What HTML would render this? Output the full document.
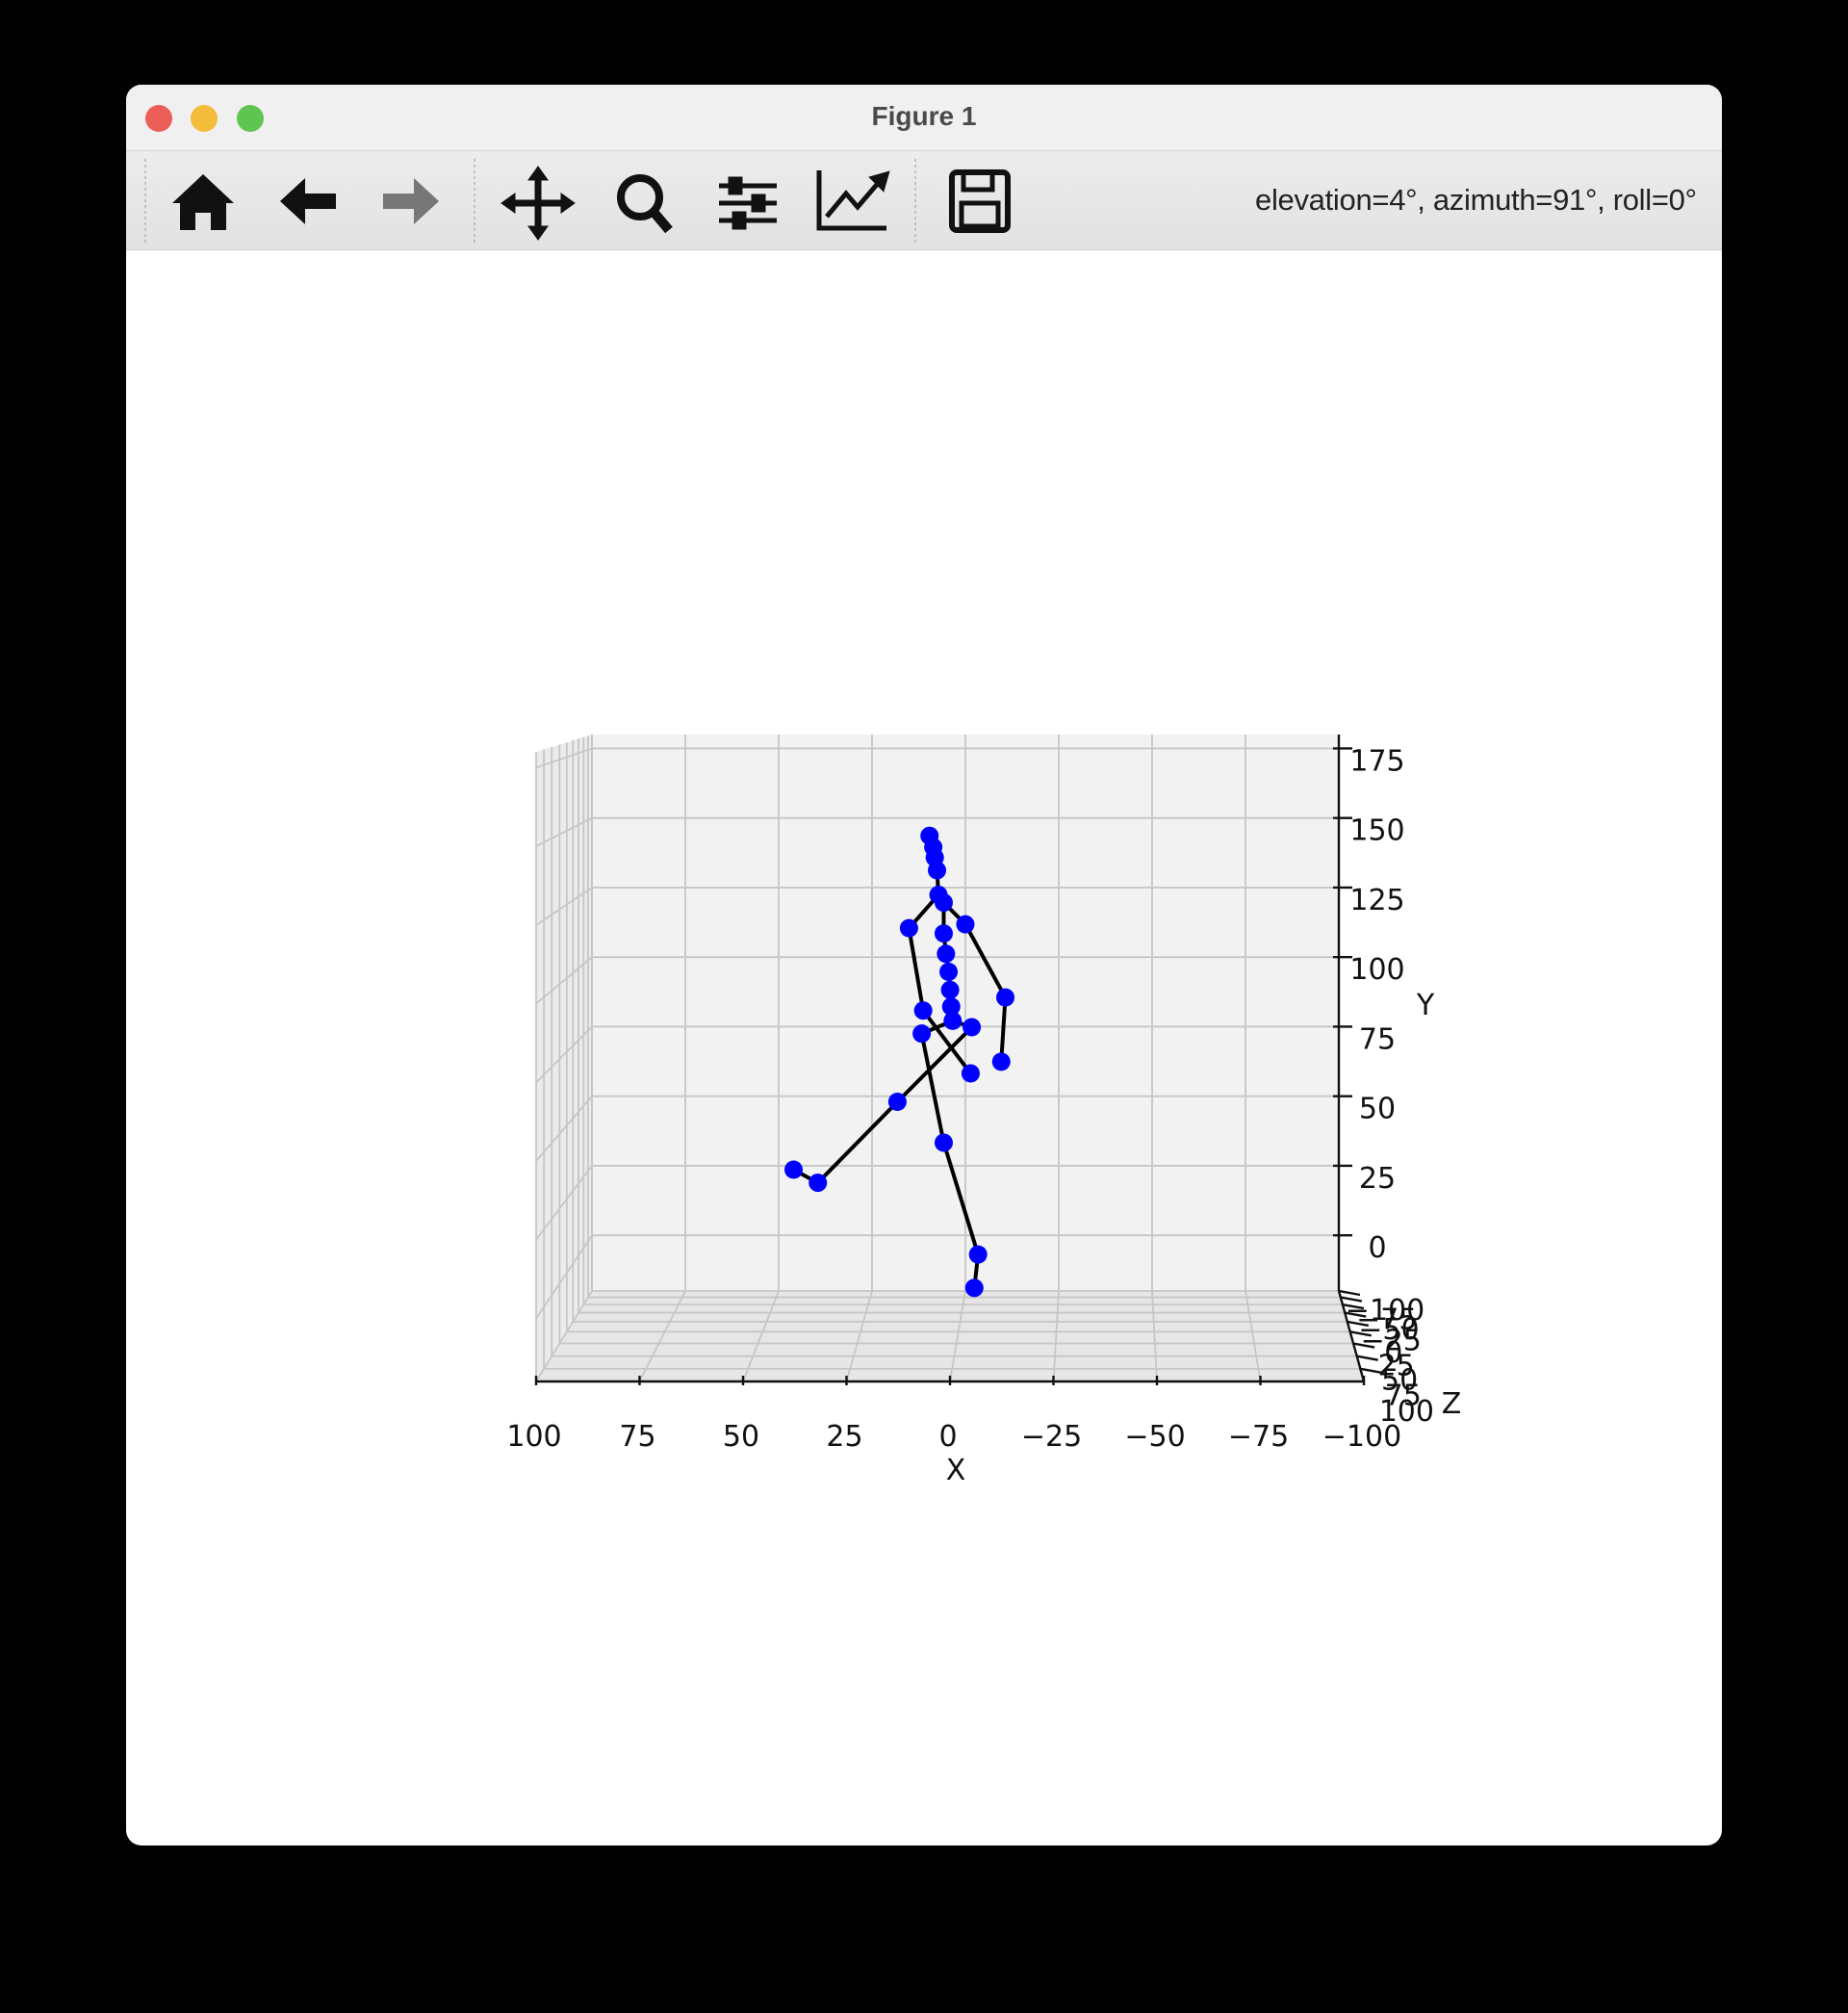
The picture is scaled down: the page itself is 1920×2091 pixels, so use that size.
<!DOCTYPE html>
<html><head><meta charset="utf-8">
<style>
html,body{margin:0;padding:0;background:#000;width:1920px;height:2091px;overflow:hidden;font-family:"DejaVu Sans","Liberation Sans",sans-serif;}
#win{position:absolute;left:131px;top:88px;width:1658px;height:1829px;background:#fff;border-radius:16px;overflow:hidden;}
#titlebar{position:absolute;left:0;top:0;width:100%;height:68px;background:#f0f0f0;border-bottom:1px solid #d8d8d8;}
#toolbar{position:absolute;left:0;top:69px;width:100%;height:102px;background:linear-gradient(#ececec,#e2e2e2);border-bottom:1px solid #cfcfcf;}
.light{position:absolute;top:21px;width:28px;height:28px;border-radius:50%;}
#title{position:absolute;left:0;width:100%;top:17px;text-align:center;font:600 28px "Liberation Sans",sans-serif;color:#4a4a4a;}
#status{position:absolute;left:1173px;top:33px;font:31px "Liberation Sans",sans-serif;color:#222;white-space:nowrap;letter-spacing:-0.3px;}
svg{position:absolute;left:0;top:0;}
</style></head><body>
<div id="win">
 <div id="titlebar">
  <div class="light" style="left:20px;background:#ec5f57"></div>
  <div class="light" style="left:67px;background:#f3bd3b"></div>
  <div class="light" style="left:115px;background:#5fc551"></div>
  <div id="title">Figure 1</div>
 </div>
 <div id="toolbar">
  <svg width="1658" height="102">
   <line x1="20" y1="8" x2="20" y2="95" stroke="#999" stroke-dasharray="3,3"/>
   <line x1="362" y1="8" x2="362" y2="95" stroke="#999" stroke-dasharray="3,3"/>
   <line x1="820" y1="8" x2="820" y2="95" stroke="#999" stroke-dasharray="3,3"/>
   <g><path d="M48 54 L80 24 L112 54 L104 54 L104 82 L88 82 L88 64 L72 64 L72 82 L56 82 L56 54 Z" fill="#111"/></g>
   <g><path d="M160 52 L186 28 L186 44 L218 44 L218 60 L186 60 L186 76 Z" fill="#111"/></g>
   <g><path d="M325 52 L299 28 L299 44 L267 44 L267 60 L299 60 L299 76 Z" fill="#777"/></g>
   <g stroke="#111" stroke-width="7" fill="#111"><line x1="428" y1="22" x2="428" y2="86"/><line x1="396" y1="54" x2="460" y2="54"/><path d="M428 16 L418 30 L438 30 Z M428 92 L418 78 L438 78 Z M390 54 L404 44 L404 64 Z M466 54 L452 44 L452 64 Z" stroke-width="1"/></g>
   <g><circle cx="534" cy="48" r="20" fill="none" stroke="#111" stroke-width="8"/><line x1="548" y1="63" x2="564" y2="82" stroke="#111" stroke-width="10"/></g>
   <g stroke="#111" stroke-width="5"><line x1="616" y1="36" x2="676" y2="36"/><line x1="616" y1="54" x2="676" y2="54"/><line x1="616" y1="72" x2="676" y2="72"/><rect x="628" y="29" width="10" height="14" fill="#111"/><rect x="652" y="47" width="10" height="14" fill="#111"/><rect x="632" y="65" width="10" height="14" fill="#111"/></g>
   <g stroke="#111" stroke-width="5" fill="none"><polyline points="720,20 720,80 790,80"/><polyline points="728,68 748,44 760,58 784,30"/><path d="M776 28 L790 24 L786 38 Z" fill="#111"/></g>
   <g><rect x="858" y="22" width="58" height="60" rx="5" fill="none" stroke="#111" stroke-width="6"/><rect x="870" y="22" width="30" height="18" fill="none" stroke="#111" stroke-width="5"/><rect x="868" y="54" width="38" height="24" fill="none" stroke="#111" stroke-width="5"/></g>
  </svg>
  <div id="status">elevation=4°, azimuth=91°, roll=0°</div>
 </div>
</div>
<svg id="chart" width="1920" height="2091"></svg>
<script>
// data
const xTicks=[100,75,50,25,0,-25,-50,-75,-100];
const yTicks=[175,150,125,100,75,50,25,0];
const zTickLabels=["−100","−75","−50","−25","0","25","50","75","100"];
const jointX=[9.6,8.6,8.2,7.6,7.2,5.8,15.1,0,-10.7,-9.6,5.8,5.2,4.5,4.1,3.8,3.4,11.3,-1.4,11.7,-1.7,5.8,-3.4,-2.4,18.2,39.5,46.0];
const jointY=[143.6,139.5,135.8,131.2,122.4,119.6,110.4,111.8,85.5,62.4,108.5,101.2,94.7,88.2,82.2,77.1,80.8,58.2,72.5,74.8,33.3,-6.9,-18.9,48.0,18.9,23.6];
const boneA=[0,1,2,3,4,4,5,7,8,6,16,5,10,11,12,13,14,15,15,18,20,21,19,23,24];
const boneB=[1,2,3,4,5,6,7,8,9,16,17,10,11,12,13,14,15,18,19,20,21,22,23,24,25];

const NS="http://www.w3.org/2000/svg";
const svg=document.getElementById('chart');
function mk(t,a,p){const e=document.createElementNS(NS,t);for(const k in a)e.setAttribute(k,a[k]);(p||svg).appendChild(e);return e;}
const BL=615,BR=1391,BT=763,BB=1341, FL=557,FR=1417,FB=1435,FT=781;
const yMin=-20,yMax=180;
const xb=v=>BL+(100-v)/200*(BR-BL);
const xf=v=>FL+(100-v)/200*(FR-FL);
const yb=v=>BB-(v-yMin)/(yMax-yMin)*(BB-BT);
const yf=v=>FB-(v-yMin)/(yMax-yMin)*(FB-FT);
let g=mk('g',{});

mk('rect',{x:BL,y:BT,width:BR-BL,height:BB-BT,fill:'#f2f2f2'},g);
let lw=mk('polygon',{points:`${BL},${BT} ${BL},${BB} ${FL},${FB} ${FL},${FT}`,fill:'#ebebeb'});

let fl=mk('polygon',{points:`${BL},${BB} ${BR},${BB} ${FR},${FB} ${FL},${FB}`,fill:'#e6e6e6'});

const gs={stroke:'#c6c6c6','stroke-width':1.8};
const depth=[0,0.07,0.15,0.24,0.34,0.45,0.58,0.72,0.86,1];
for(const v of xTicks){const l=mk('line',Object.assign({x1:xb(v),y1:BT,x2:xb(v),y2:BB},gs));
 const f=mk('line',Object.assign({x1:xb(v),y1:BB,x2:xf(v),y2:FB},gs));}
for(const v of yTicks){const l=mk('line',Object.assign({x1:BL,y1:yb(v),x2:BR,y2:yb(v)},gs));
 const w=mk('line',Object.assign({x1:BL,y1:yb(v),x2:FL,y2:yf(v)},gs));}
for(const t of depth){const yy=BB+t*(FB-BB),xl=BL+t*(FL-BL),xr=BR+t*(FR-BR);
 const l=mk('line',Object.assign({x1:xl,y1:yy,x2:xr,y2:yy},gs));
 const w=mk('line',Object.assign({x1:xl,y1:BT+t*(FT-BT),x2:xl,y2:yy},gs));}
const ax={stroke:'#111','stroke-width':2.4};
let a1=mk('line',Object.assign({x1:FL,y1:FB,x2:FR,y2:FB},ax));
let a2=mk('line',Object.assign({x1:BR,y1:BT,x2:BR,y2:BB},ax));
let a3=mk('line',Object.assign({x1:BR,y1:BB,x2:FR,y2:FB},ax));
const txt={'font-family':'DejaVu Sans, Liberation Sans, sans-serif','font-size':30,fill:'#111'};
for(const v of xTicks){const tk=mk('line',Object.assign({x1:xf(v),y1:FB-6,x2:xf(v),y2:FB+4},ax));
 const t=mk('text',Object.assign({x:xf(v)-2,y:1502,'text-anchor':'middle'},txt));t.textContent=v<0?'−'+(-v):String(v);}
for(const v of yTicks){const tk=mk('line',Object.assign({x1:BR-6,y1:yb(v),x2:BR+14,y2:yb(v)},ax));
 const t=mk('text',Object.assign({x:1431,y:yb(v)+23,'text-anchor':'middle'},txt));t.textContent=String(v);}
zTickLabels.forEach((s,i)=>{const t0=depth[i];const xx=BR+t0*(FR-BR),yy=BB+t0*(FB-BB);
 const tk=mk('line',Object.assign({x1:xx,y1:yy,x2:xx+22,y2:yy+4},ax));
 const t=mk('text',Object.assign({x:xx+48,y:yy+30+i*3,'text-anchor':'middle'},txt));t.textContent=s;});
let lx=mk('text',Object.assign({x:993,y:1537,'text-anchor':'middle'},txt));lx.textContent='X';
let ly=mk('text',Object.assign({x:1481,y:1054,'text-anchor':'middle'},txt));ly.textContent='Y';
let lz=mk('text',Object.assign({x:1508,y:1468,'text-anchor':'middle'},txt));lz.textContent='Z';
const px=i=>xb(jointX[i]), py=i=>yb(jointY[i]);
boneA.forEach((a,k)=>{const b=boneB[k];const l=mk('line',{x1:px(a),y1:py(a),x2:px(b),y2:py(b),stroke:'#000','stroke-width':4});
 });
jointX.forEach((_,i)=>{const c=mk('circle',{cx:px(i),cy:py(i),r:9.5,fill:'#0000ff'});
 });
</script>
</body></html>
